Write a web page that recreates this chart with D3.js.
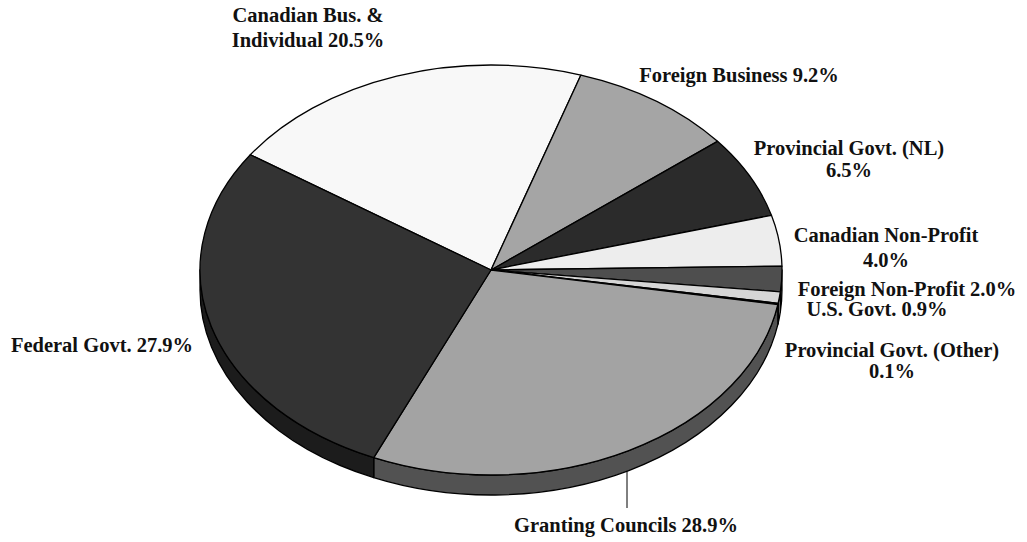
<!DOCTYPE html>
<html>
<head>
<meta charset="utf-8">
<script src="https://cdn.jsdelivr.net/npm/d3@7"></script>
<style>
    body { margin: 0; background: #fff; }
    #chart { width: 1027px; height: 542px; }
    .lbl { font-family: "Liberation Serif", "Times New Roman", serif; font-weight: bold; font-size: 20.5px; fill: #111; }
</style>
</head>
<body>
<div id="chart"></div>
<script>

// data, clockwise from the Canadian Bus. slice
const categories = ["Canadian Bus. & Individual", "Foreign Business", "Provincial Govt. (NL)",
    "Canadian Non-Profit", "Foreign Non-Profit", "U.S. Govt.", "Provincial Govt. (Other)",
    "Granting Councils", "Federal Govt."];
const shares = [20.5, 9.2, 6.5, 4.0, 2.0, 0.9, 0.1, 28.9, 27.9];

// label text lines ({v} gets the share)
const labelLines = [
    ["Canadian Bus. &", "Individual {v}%"],
    ["Foreign Business {v}%"],
    ["Provincial Govt. (NL)", "{v}%"],
    ["Canadian Non-Profit", "{v}%"],
    ["Foreign Non-Profit {v}%"],
    ["U.S. Govt. {v}%"],
    ["Provincial Govt. (Other)", "{v}%"],
    ["Granting Councils {v}%"],
    ["Federal Govt. {v}%"]
];

// styles / layout kept apart from the data
const topFills  = ["#f8f8f8", "#a5a5a5", "#2b2b2b", "#ededed", "#4e4e4e", "#d6d6d6", "#050505", "#a3a3a3", "#333333"];
const sideFills = ["#b0b0b0", "#6e6e6e", "#1a1a1a", "#a8a8a8", "#343434", "#8f8f8f", "#000000", "#525252", "#1c1c1c"];
const labelSpots = [
    {x: 308, y: 22, gap: 25}, {x: 739, y: 82, gap: 0}, {x: 849, y: 155, gap: 22},
    {x: 886, y: 242, gap: 25}, {x: 907, y: 296, gap: 0}, {x: 877, y: 316, gap: 0},
    {x: 892, y: 357, gap: 21}, {x: 626, y: 532, gap: 0}, {x: 102, y: 352, gap: 0}
];

const width = 1027, height = 542;
const cx = 491, cy = 270, rx = 291, ry = 205, depth = 20;
const startDeg = -55.8;

const svg = d3.select("#chart").append("svg")
    .attr("width", width)
    .attr("height", height);

const color = d3.scaleOrdinal().domain(categories).range(topFills);
const sideColor = d3.scaleOrdinal().domain(categories).range(sideFills);

const start = startDeg * Math.PI / 180;
const pie = d3.pie()
    .sort(null)
    .value(d => d.share)
    .startAngle(start)
    .endAngle(start + 2 * Math.PI);

const slices = pie(categories.map((c, i) => ({name: c, share: shares[i], i: i})));

// point on the tilted ellipse (d3 angle: 0 = up, clockwise)
function pt(a, dy) {
    return [cx + rx * Math.sin(a), cy - ry * Math.cos(a) + (dy || 0)];
}

function topPath(d) {
    let p0 = pt(d.startAngle), p1 = pt(d.endAngle);
    let large = (d.endAngle - d.startAngle) > Math.PI ? 1 : 0;
    return "M" + cx + "," + cy + "L" + p0 + "A" + rx + "," + ry + " 0 " + large + " 1 " + p1 + "Z";
}

function sidePath(d) {
    let b0 = Math.max(d.startAngle, Math.PI / 2);
    let b1 = Math.min(d.endAngle, 3 * Math.PI / 2);
    if (b1 <= b0) return null;
    return "M" + pt(b0) + "A" + rx + "," + ry + " 0 0 1 " + pt(b1) +
        "L" + pt(b1, depth) + "A" + rx + "," + ry + " 0 0 0 " + pt(b0, depth) + "Z";
}

// side walls first
svg.append("g").selectAll("path")
    .data(slices.filter(d => sidePath(d) !== null))
    .enter().append("path")
    .attr("d", sidePath)
    .attr("fill", d => sideColor(d.data.name))
    .attr("stroke", "#000")
    .attr("stroke-width", 1.3)
    .attr("stroke-linejoin", "round");

// top faces
svg.append("g").selectAll("path")
    .data(slices)
    .enter().append("path")
    .attr("d", topPath)
    .attr("fill", d => color(d.data.name))
    .attr("stroke", "#000")
    .attr("stroke-width", 1.3)
    .attr("stroke-linejoin", "round");

// leader for Granting Councils
let gi = categories.indexOf("Granting Councils");
let gx = labelSpots[gi].x + 1;
let gy = cy + ry * Math.sqrt(1 - Math.pow((gx - cx) / rx, 2)) + depth;
svg.append("line")
    .attr("x1", gx).attr("x2", gx)
    .attr("y1", gy).attr("y2", labelSpots[gi].y - 24)
    .attr("stroke", "#000")
    .attr("stroke-width", 1);

// labels
const labels = svg.append("g").selectAll("text")
    .data(slices)
    .enter().append("text")
    .attr("class", "lbl")
    .attr("text-anchor", "middle");

labels.each(function(d) {
    let spot = labelSpots[d.data.i];
    let t = d3.select(this);
    labelLines[d.data.i].forEach((line, k) => {
        t.append("tspan")
            .attr("x", spot.x)
            .attr("y", spot.y + k * spot.gap)
            .text(line.replace("{v}", d.data.share.toFixed(1)));
    });
});

</script>
</body>
</html>
